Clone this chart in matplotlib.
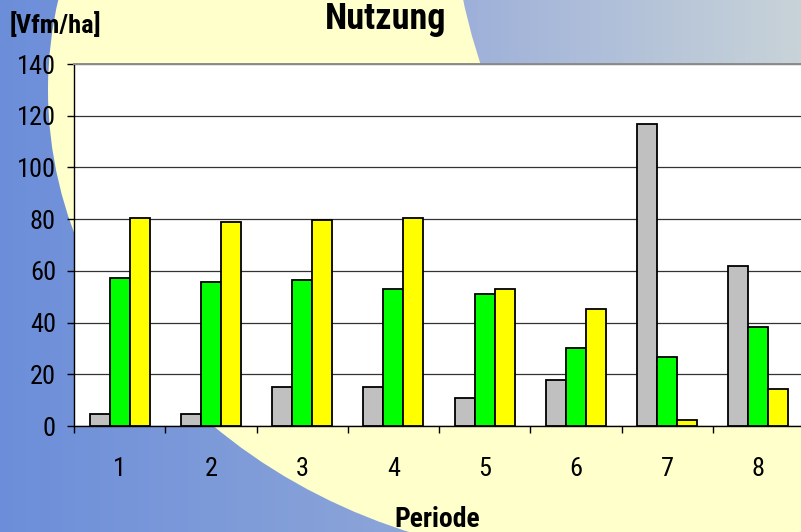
import matplotlib

matplotlib.use("Agg")
import matplotlib.pyplot as plt
import numpy as np
from matplotlib.patches import Circle, Ellipse

# values (Vfm/ha per period)
PERIODS = ["1", "2", "3", "4", "5", "6", "7", "8"]
GRAY_VALUES = [4.7, 4.7, 15.2, 15.2, 10.8, 17.8, 116.8, 61.8]
GREEN_VALUES = [57.4, 55.7, 56.5, 52.9, 51.2, 30.2, 26.5, 38.2]
YELLOW_VALUES = [80.4, 79.0, 79.6, 80.4, 52.9, 45.1, 2.2, 14.2]
Y_TICKS = [0, 20, 40, 60, 80, 100, 120, 140]

BAR_COLORS = ["#C0C0C0", "#00FF00", "#FFFF00"]
FONT = ["Roboto Condensed", "PT Sans Narrow", "Liberation Sans", "DejaVu Sans"]

W, H = 801, 532

plt.rcParams.update({
    "font.family": FONT,
    "font.size": 18,
})

fig = plt.figure(figsize=(W / 100, H / 100), dpi=100)

# background: blue gradient, pale yellow ellipse, gradient shape top right
bg = fig.add_axes([0, 0, 1, 1], zorder=0)
bg.axis("off")
stops = np.array([[108, 142, 218], [140, 165, 216], [160, 178, 218], [200, 211, 216]]) / 255
grad_x = np.linspace(0, 1, 256)
grad = np.stack([np.interp(grad_x, [0, 0.5, 0.6, 1], stops[:, c]) for c in range(3)], axis=-1)
grad_img = np.repeat(grad[np.newaxis, :, :], 2, axis=0)
bg.imshow(grad_img, extent=(0, W, H, 0), aspect="auto", zorder=0)
bg.add_patch(Ellipse((604, 90), 2 * 556, 2 * 472, facecolor="#FFFFCC",
                     edgecolor="none", zorder=1))
top_shape = Circle((1050, -125), 600, transform=bg.transData)
overlay = bg.imshow(grad_img, extent=(0, W, H, 0), aspect="auto", zorder=2)
overlay.set_clip_path(top_shape)
bg.set_xlim(0, W)
bg.set_ylim(H, 0)

# plot area
ax = fig.add_axes([74 / W, 106 / H, 730 / W, 362 / H], zorder=1)
ax.set_facecolor("white")
x = np.arange(len(PERIODS))
bw = 0.219
for offset, vals, color in zip((-bw, 0, bw),
                               (GRAY_VALUES, GREEN_VALUES, YELLOW_VALUES),
                               BAR_COLORS):
    ax.bar(x + offset, vals, width=bw, color=color, edgecolor="black",
           linewidth=1.3, zorder=3)

ax.set_xlim(-0.5, len(PERIODS) - 0.5)
ax.set_ylim(0, 140)
ax.set_yticks(Y_TICKS)
ax.yaxis.grid(True, color="#333333", linewidth=0.9, zorder=1)
ax.set_axisbelow(True)

ax.set_xticks(x)
ax.set_xticklabels(PERIODS)
ax.set_xticks(np.arange(len(PERIODS) + 1) - 0.5, minor=True)
ax.tick_params(axis="x", which="major", length=0, pad=22, labelsize=19)
ax.tick_params(axis="x", which="minor", length=5, width=1, direction="out")
ax.tick_params(axis="y", length=5, width=1, direction="out", pad=8, labelsize=19)

ax.spines["right"].set_visible(False)
ax.spines["top"].set_color("#8C8C8C")
ax.spines["top"].set_linewidth(1.4)
ax.spines["left"].set_linewidth(1.0)
ax.spines["bottom"].set_linewidth(1.0)

fig.text(386 / W, 1 - 29 / H, "Nutzung", ha="center", va="baseline",
         fontsize=26, fontweight="bold")
fig.text(10 / W, 1 - 33 / H, "[Vfm/ha]", ha="left", va="baseline",
         fontsize=19, fontweight="bold")
fig.text(437 / W, 1 - 527 / H, "Periode", ha="center", va="baseline",
         fontsize=20, fontweight="bold")

fig.savefig("out.png", dpi=100)
